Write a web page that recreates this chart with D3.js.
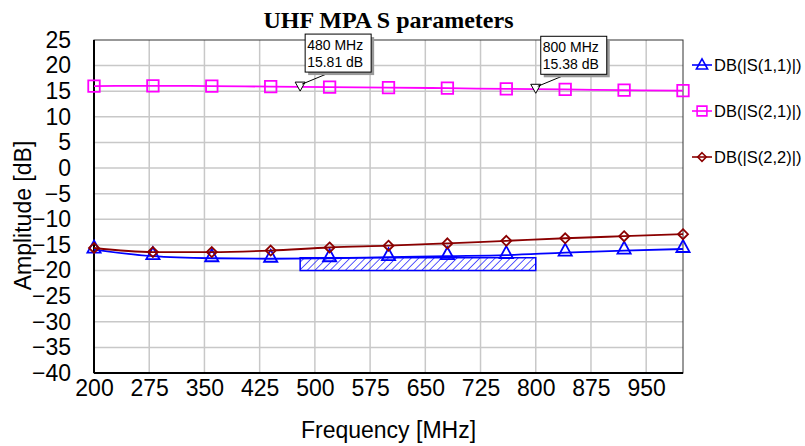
<!DOCTYPE html>
<html>
<head>
<meta charset="utf-8">
<script src="https://cdn.jsdelivr.net/npm/d3@7"></script>
<style>
  body { margin: 0; background: #fff; }
  text { font-family: "Liberation Sans", Arial, sans-serif; }
</style>
</head>
<body>
<svg id="chart" width="805" height="446"></svg>
<script>
// values
var freq = [200, 280, 360, 440, 520, 600, 680, 760, 840, 920, 1000];
var s11 = [-15.9, -17.2, -17.6, -17.7, -17.6, -17.4, -17.2, -17.0, -16.5, -16.1, -15.8];
var s21 = [16.0, 16.05, 16.0, 15.9, 15.8, 15.7, 15.6, 15.45, 15.35, 15.2, 15.1];
var s22 = [-15.6, -16.4, -16.4, -16.1, -15.5, -15.15, -14.7, -14.2, -13.7, -13.3, -12.9];
var xTicks = [200, 275, 350, 425, 500, 575, 650, 725, 800, 875, 950];
var yTicks = [25, 20, 15, 10, 5, 0, -5, -10, -15, -20, -25, -30, -35, -40];
var markers = [{f: 480, v: 15.81}, {f: 800, v: 15.38}];
var specBox = {f0: 480, f1: 800, top: -17.5, bottom: -20};

var series = [
  {name: "DB(|S(1,1)|)", vals: s11, color: "#0000ff", shape: "tri"},
  {name: "DB(|S(2,1)|)", vals: s21, color: "#ff00ff", shape: "sq"},
  {name: "DB(|S(2,2)|)", vals: s22, color: "#8b0000", shape: "dia"}
];

var margin = {left: 94, top: 40, right: 122, bottom: 73};
var width = 805 - margin.left - margin.right;
var height = 446 - margin.top - margin.bottom;

var svg = d3.select("#chart");
var g = svg.append("g").attr("transform", "translate(" + margin.left + "," + margin.top + ")");

var x = d3.scaleLinear().domain([200, 1000]).range([0, width]);
var y = d3.scaleLinear().domain([-40, 25]).range([height, 0]);

// hatch pattern
var defs = svg.append("defs");
var pat = defs.append("pattern").attr("id", "hatch")
  .attr("patternUnits", "userSpaceOnUse").attr("width", 5.4).attr("height", 5.4)
  .attr("patternTransform", "rotate(45)");
pat.append("line").attr("x1", 0).attr("y1", 0).attr("x2", 0).attr("y2", 5.4)
  .attr("stroke", "#0000ff").attr("stroke-width", 1.3);

// grid
g.append("g").selectAll("line").data(xTicks.slice(1)).join("line")
  .attr("x1", d => x(d)).attr("x2", d => x(d)).attr("y1", 0).attr("y2", height)
  .attr("stroke", "#c8c8c8").attr("stroke-width", 1.5);
g.append("g").selectAll("line").data(yTicks.slice(1, -1)).join("line")
  .attr("x1", 0).attr("x2", width).attr("y1", d => y(d)).attr("y2", d => y(d))
  .attr("stroke", "#c8c8c8").attr("stroke-width", 1.5);

// frame
g.append("rect").attr("width", width).attr("height", height)
  .attr("fill", "none").attr("stroke", "#333").attr("stroke-width", 1);
g.append("line").attr("x1", 0).attr("x2", 0).attr("y1", 0).attr("y2", height)
  .attr("stroke", "#000").attr("stroke-width", 2);
g.append("line").attr("x1", 0).attr("x2", width).attr("y1", height).attr("y2", height)
  .attr("stroke", "#000").attr("stroke-width", 2);

// spec box
g.append("rect")
  .attr("x", x(specBox.f0)).attr("y", y(specBox.top))
  .attr("width", x(specBox.f1) - x(specBox.f0))
  .attr("height", y(specBox.bottom) - y(specBox.top))
  .attr("fill", "url(#hatch)").attr("stroke", "#0000ff").attr("stroke-width", 1.5);

// axes
var xAxis = g.append("g").attr("transform", "translate(0," + height + ")")
  .call(d3.axisBottom(x).tickValues(xTicks).tickSize(0).tickPadding(7));
var yAxis = g.append("g")
  .call(d3.axisLeft(y).tickValues(yTicks).tickSize(0).tickPadding(23));
[xAxis, yAxis].forEach(function(a) {
  a.select(".domain").remove();
  a.selectAll("text").attr("font-size", 23).attr("fill", "#000")
    .attr("font-family", "'Liberation Sans', Arial, sans-serif");
});

function symbolPath(shape, s) {
  if (shape == "tri") return "M0," + (-s * 0.75) + "L" + (s * 0.55) + "," + (s * 0.25) + "L" + (-s * 0.55) + "," + (s * 0.25) + "Z";
  if (shape == "sq") return "M" + (-s / 2) + "," + (-s / 2) + "h" + s + "v" + s + "h" + (-s) + "Z";
  return "M0," + (-s / 2) + "L" + (s / 2) + ",0L0," + (s / 2) + "L" + (-s / 2) + ",0Z";
}
var markSize = {tri: 12, sq: 11.5, dia: 10};

var line = d3.line().x(d => x(d[0])).y(d => y(d[1])).curve(d3.curveMonotoneX);

series.forEach(function(s) {
  var pts = freq.map((f, i) => [f, s.vals[i]]);
  g.append("path").datum(pts).attr("d", line)
    .attr("fill", "none").attr("stroke", s.color).attr("stroke-width", 1.8);
  g.append("g").selectAll("path").data(pts).join("path")
    .attr("transform", d => "translate(" + x(d[0]) + "," + y(d[1]) + ")")
    .attr("d", symbolPath(s.shape, markSize[s.shape]))
    .attr("fill", "none").attr("stroke", s.color).attr("stroke-width", 1.8);
});

// marker annotations
markers.forEach(function(m) {
  var mx = x(m.f), my = y(m.v);
  var bx = mx + 5, by = my - 53, bw = 66, bh = 38;
  g.append("path").attr("transform", "translate(" + mx + "," + my + ")")
    .attr("d", "M-5,-5L5,-5L0,4Z").attr("fill", "#fff").attr("stroke", "#000").attr("stroke-width", 1);
  g.append("line").attr("x1", mx + 2).attr("y1", my - 3).attr("x2", bx + 26).attr("y2", by + bh)
    .attr("stroke", "#000").attr("stroke-width", 1);
  g.append("rect").attr("x", bx + 3).attr("y", by + 3).attr("width", bw).attr("height", bh)
    .attr("fill", "#999");
  g.append("rect").attr("x", bx).attr("y", by).attr("width", bw).attr("height", bh)
    .attr("fill", "#fff").attr("stroke", "#000").attr("stroke-width", 1);
  g.append("text").attr("x", bx + 2).attr("y", by + 16).attr("font-size", 14)
    .text(m.f + " MHz");
  g.append("text").attr("x", bx + 2).attr("y", by + 33).attr("font-size", 14)
    .text(m.v.toFixed(2) + " dB");
});

// legend
var leg = svg.append("g").attr("transform", "translate(692,65)");
series.forEach(function(s, i) {
  var row = leg.append("g").attr("transform", "translate(0," + (i * 46) + ")");
  row.append("line").attr("x1", 0).attr("x2", 20).attr("y1", 0).attr("y2", 0)
    .attr("stroke", s.color).attr("stroke-width", 1.6);
  row.append("path").attr("transform", "translate(10," + (s.shape == "tri" ? 1.5 : 0) + ")")
    .attr("d", symbolPath(s.shape, markSize[s.shape] * 0.85))
    .attr("fill", "none").attr("stroke", s.color).attr("stroke-width", 1.6);
  row.append("text").attr("x", 22).attr("y", 6).attr("font-size", 16.5).text(s.name);
});

// titles
svg.append("text").attr("x", margin.left + width / 2).attr("y", 28)
  .attr("text-anchor", "middle").attr("font-size", 24).attr("font-weight", "bold")
  .style("font-family", "'Liberation Serif', 'Times New Roman', serif")
  .text("UHF MPA S parameters");
svg.append("text").attr("x", margin.left + width / 2).attr("y", 438)
  .attr("text-anchor", "middle").attr("font-size", 23).text("Frequency [MHz]");
svg.append("text").attr("transform", "translate(31," + (margin.top + height / 2 + 9) + ") rotate(-90)")
  .attr("text-anchor", "middle").attr("font-size", 23).text("Amplitude [dB]");
</script>
</body>
</html>
